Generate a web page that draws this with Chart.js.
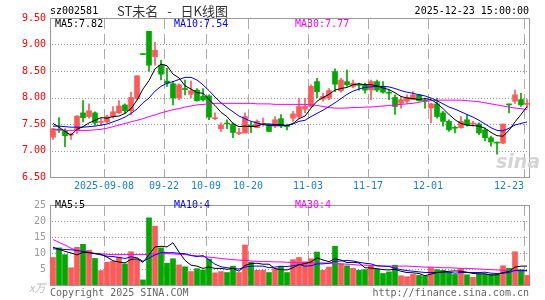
<!DOCTYPE html>
<html lang="zh">
<head>
  <meta charset="UTF-8" />
  <title>ST未名 - 日K线图</title>
  <script src="https://cdn.jsdelivr.net/npm/chart.js"></script>
  <style>
    body { margin: 0; background: #fff; font-family: "DejaVu Sans Mono", monospace; font-size: 10px; }
    canvas { position: absolute; left: 0; z-index: 1; }
    #priceChart { top: 0; }
    #volChart { top: 195px; }
    .txt { position: absolute; line-height: 12px; white-space: pre; z-index: 2; }
    .gridline { position: absolute; z-index: 0; }
  </style>
</head>
<body>
  <canvas id="priceChart" width="545" height="196"></canvas>
  <canvas id="volChart" width="545" height="105"></canvas>

  <div class="txt" style="left:50px;top:5px;color:#000;font-size:10px">sz002581</div>
  <div class="txt" style="left:117px;top:3px;color:#333;font:13px 'Noto Sans CJK SC';line-height:16px;word-spacing:6px">ST未名 - 日K线图</div>
  <div class="txt" style="right:16px;top:5px;color:#000">2025-12-23 15:00:00</div>

  <div class="txt" style="left:55px;top:18px;color:#000">MA5:7.82</div>
  <div class="txt" style="left:174px;top:18px;color:#0000ff">MA10:7.54</div>
  <div class="txt" style="left:295px;top:18px;color:#ff00ff">MA30:7.77</div>

  <div class="txt" style="left:55px;top:199px;color:#000">MA5:5</div>
  <div class="txt" style="left:174px;top:199px;color:#0000ff">MA10:4</div>
  <div class="txt" style="left:295px;top:199px;color:#ff00ff">MA30:4</div>

  <div class="txt" style="left:496px;top:150px;color:#d4d4d4;font:italic bold 19px 'DejaVu Sans';line-height:22px">sina</div>

  <div class="txt" style="left:29px;top:281px;color:#bbb;font:italic 11px 'Noto Sans CJK SC';line-height:12px">x万</div>
  <div class="txt" style="left:50px;top:287px;color:#666">Copyright 2025 SINA.COM</div>
  <div class="txt" style="right:16px;top:287px;color:#666">http://finance.sina.com.cn</div>

  <script>
    // trading days shown (80)
    const dates = [
      '2025-08-26','2025-08-27','2025-08-28','2025-08-29',
      '2025-09-01','2025-09-02','2025-09-03','2025-09-04','2025-09-05',
      '2025-09-08','2025-09-09','2025-09-10','2025-09-11','2025-09-12',
      '2025-09-15','2025-09-16','2025-09-17','2025-09-18','2025-09-19',
      '2025-09-22','2025-09-23','2025-09-24','2025-09-25','2025-09-26',
      '2025-09-29','2025-09-30',
      '2025-10-09','2025-10-10',
      '2025-10-13','2025-10-14','2025-10-15','2025-10-16','2025-10-17',
      '2025-10-20','2025-10-21','2025-10-22','2025-10-23','2025-10-24',
      '2025-10-27','2025-10-28','2025-10-29','2025-10-30','2025-10-31',
      '2025-11-03','2025-11-04','2025-11-05','2025-11-06','2025-11-07',
      '2025-11-10','2025-11-11','2025-11-12','2025-11-13','2025-11-14',
      '2025-11-17','2025-11-18','2025-11-19','2025-11-20','2025-11-21',
      '2025-11-24','2025-11-25','2025-11-26','2025-11-27','2025-11-28',
      '2025-12-01','2025-12-02','2025-12-03','2025-12-04','2025-12-05',
      '2025-12-08','2025-12-09','2025-12-10','2025-12-11','2025-12-12',
      '2025-12-15','2025-12-16','2025-12-17','2025-12-18','2025-12-19',
      '2025-12-22','2025-12-23'
    ];

    // x axis labels
    const tickDates = ['2025-09-08','2025-09-22','2025-10-09','2025-10-20','2025-11-03','2025-11-17','2025-12-01','2025-12-23'];
    const tickTexts = ['2025-09-08','09-22','10-09','10-20','11-03','11-17','12-01','12-23'];

    // dotted horizontal grid levels
    const priceGrid = [7.0, 7.5, 8.0, 8.5, 9.0];
    const volGrid = [5, 10, 15, 20];

    const opens = [
      7.25, 7.40, 7.37, 7.29, 7.39, 7.71, 7.64, 7.71, 7.53, 7.54,
      7.64, 7.71, 7.86, 7.75, 7.98, 8.82, 9.25, 8.77, 8.61, 8.31,
      8.26, 7.99, 8.17, 8.06, 8.14, 8.02, 8.03, 7.60, 7.41, 7.51,
      7.50, 7.32, 7.33, 7.47, 7.43, 7.49, 7.49, 7.46, 7.60, 7.46,
      7.61, 7.64, 7.78, 7.83, 8.30, 7.97, 7.99, 8.49, 8.13, 8.30,
      8.21, 8.25, 8.25, 8.14, 8.30, 8.21, 8.09, 8.00, 7.89, 7.93,
      7.96, 8.05, 7.94, 7.80, 7.88, 7.71, 7.55, 7.43, 7.43, 7.58,
      7.50, 7.50, 7.39, 7.24, 7.15, 7.14, 7.87, 7.93, 7.96, 7.87
    ];
    const highs = [
      7.42, 7.62, 7.41, 7.33, 7.66, 7.94, 7.88, 7.73, 7.60, 7.67,
      7.83, 7.94, 7.88, 8.10, 8.41, 8.82, 9.25, 9.04, 8.70, 8.55,
      8.30, 8.26, 8.33, 8.31, 8.17, 8.17, 8.05, 7.71, 7.52, 7.58,
      7.52, 7.42, 7.71, 7.54, 7.58, 7.61, 7.50, 7.64, 7.68, 7.50,
      7.74, 7.99, 7.99, 8.24, 8.36, 8.08, 8.17, 8.54, 8.36, 8.52,
      8.33, 8.27, 8.27, 8.33, 8.33, 8.30, 8.14, 8.05, 8.02, 8.05,
      8.11, 8.06, 7.99, 7.89, 7.99, 7.74, 7.58, 7.46, 7.64, 7.68,
      7.55, 7.52, 7.43, 7.27, 7.16, 7.50, 7.88, 8.14, 8.08, 7.96
    ];
    const lows = [
      7.21, 7.34, 7.07, 7.21, 7.32, 7.54, 7.61, 7.48, 7.47, 7.53,
      7.61, 7.70, 7.70, 7.67, 7.95, 8.81, 8.49, 8.61, 8.33, 8.21,
      7.86, 7.96, 8.05, 7.99, 7.93, 7.93, 7.58, 7.58, 7.36, 7.41,
      7.24, 7.30, 7.33, 7.33, 7.43, 7.46, 7.35, 7.43, 7.43, 7.39,
      7.55, 7.61, 7.71, 7.81, 7.99, 7.93, 7.96, 8.11, 8.10, 8.21,
      8.18, 8.14, 8.08, 7.96, 8.11, 8.08, 7.96, 7.68, 7.80, 7.89,
      7.96, 7.93, 7.80, 7.52, 7.61, 7.46, 7.36, 7.33, 7.42, 7.46,
      7.46, 7.30, 7.18, 7.08, 6.93, 7.13, 7.71, 7.89, 7.83, 7.80
    ];
    const closes = [
      7.41, 7.38, 7.28, 7.30, 7.65, 7.62, 7.75, 7.52, 7.54, 7.64,
      7.73, 7.84, 7.75, 8.00, 8.41, 8.81, 8.61, 8.89, 8.44, 8.27,
      7.99, 8.24, 8.15, 8.13, 7.94, 7.96, 7.63, 7.61, 7.48, 7.50,
      7.34, 7.33, 7.64, 7.46, 7.55, 7.50, 7.36, 7.58, 7.46, 7.45,
      7.69, 7.83, 7.83, 8.21, 8.11, 8.02, 8.13, 8.25, 8.33, 8.24,
      8.27, 8.23, 8.14, 8.30, 8.14, 8.10, 8.08, 7.83, 7.96, 8.00,
      8.05, 7.94, 7.93, 7.88, 7.64, 7.55, 7.39, 7.42, 7.55, 7.48,
      7.51, 7.33, 7.24, 7.16, 7.14, 7.50, 7.86, 8.05, 7.86, 7.88
    ];

    // price moving averages
    const ma5 = [
      7.51, 7.44, 7.36, 7.29, 7.40, 7.45, 7.52, 7.57, 7.62, 7.61,
      7.64, 7.65, 7.70, 7.79, 7.95, 8.16, 8.32, 8.54, 8.63, 8.60,
      8.44, 8.37, 8.22, 8.16, 8.09, 8.08, 7.96, 7.85, 7.72, 7.64,
      7.51, 7.45, 7.46, 7.45, 7.46, 7.50, 7.50, 7.49, 7.49, 7.47,
      7.51, 7.60, 7.65, 7.80, 7.93, 8.00, 8.06, 8.14, 8.17, 8.19,
      8.24, 8.26, 8.24, 8.24, 8.22, 8.18, 8.15, 8.09, 8.02, 7.99,
      7.98, 7.96, 7.98, 7.96, 7.89, 7.79, 7.68, 7.58, 7.51, 7.48,
      7.47, 7.46, 7.42, 7.34, 7.28, 7.27, 7.38, 7.54, 7.68, 7.83
    ];
    const ma10 = [
      7.46, 7.46, 7.45, 7.44, 7.44, 7.44, 7.45, 7.46, 7.48, 7.50,
      7.54, 7.58, 7.63, 7.70, 7.78, 7.90, 7.99, 8.12, 8.21, 8.27,
      8.30, 8.34, 8.38, 8.38, 8.33, 8.24, 8.13, 8.01, 7.90, 7.81,
      7.73, 7.65, 7.60, 7.55, 7.52, 7.49, 7.47, 7.47, 7.47, 7.47,
      7.50, 7.55, 7.57, 7.64, 7.70, 7.76, 7.83, 7.90, 7.98, 8.06,
      8.12, 8.16, 8.19, 8.20, 8.21, 8.21, 8.20, 8.17, 8.13, 8.10,
      8.08, 8.05, 8.03, 7.99, 7.94, 7.88, 7.82, 7.78, 7.73, 7.68,
      7.63, 7.57, 7.50, 7.43, 7.38, 7.37, 7.42, 7.48, 7.51, 7.54
    ];
    const ma30 = [
      7.40, 7.39, 7.38, 7.38, 7.38, 7.38, 7.38, 7.39, 7.40, 7.42,
      7.45, 7.48, 7.51, 7.54, 7.57, 7.60, 7.64, 7.67, 7.71, 7.74,
      7.77, 7.79, 7.82, 7.84, 7.86, 7.87, 7.88, 7.89, 7.89, 7.89,
      7.89, 7.89, 7.89, 7.89, 7.88, 7.88, 7.88, 7.87, 7.87, 7.87,
      7.87, 7.87, 7.87, 7.86, 7.85, 7.83, 7.81, 7.80, 7.80, 7.80,
      7.81, 7.81, 7.82, 7.82, 7.83, 7.84, 7.85, 7.86, 7.87, 7.88,
      7.89, 7.91, 7.93, 7.94, 7.95, 7.95, 7.95, 7.95, 7.95, 7.94,
      7.93, 7.92, 7.90, 7.88, 7.86, 7.84, 7.82, 7.80, 7.79, 7.77
    ];

    // volume (x万)
    const volumes = [
      8.6, 11.6, 9.5, 5.4, 11.8, 12.7, 10.9, 8.3, 4.5, 7.1,
      7.4, 8.7, 6.6, 10.4, 8.0, 1.6, 21.0, 18.4, 11.6, 6.8,
      8.2, 6.3, 5.7, 4.2, 5.1, 4.7, 8.1, 3.8, 4.2, 3.9,
      5.9, 3.9, 12.5, 7.1, 4.6, 4.6, 3.9, 5.2, 5.9, 3.9,
      7.9, 8.6, 7.3, 8.2, 10.3, 4.6, 5.6, 12.1, 6.6, 6.0,
      5.2, 4.6, 4.8, 5.9, 4.9, 3.6, 4.1, 6.2, 2.9, 2.6,
      3.3, 3.0, 2.8, 5.4, 4.8, 4.6, 3.9, 3.3, 5.1, 3.2,
      2.4, 3.4, 3.4, 3.3, 3.3, 6.0, 5.2, 10.4, 4.8, 3.0
    ];
    const volMa5 = [
      11.8, 11.2, 10.5, 10.0, 9.4, 10.2, 10.1, 9.8, 9.6, 8.7,
      7.6, 7.2, 6.9, 8.0, 8.2, 7.1, 9.5, 11.9, 12.1, 11.9,
      13.2, 10.3, 7.7, 6.2, 5.9, 5.2, 5.6, 5.2, 5.2, 4.9,
      5.2, 4.3, 6.1, 6.7, 6.8, 6.5, 6.5, 5.1, 4.8, 4.7,
      5.4, 6.3, 6.7, 7.2, 8.5, 7.8, 7.3, 8.2, 7.8, 7.0,
      7.1, 6.9, 5.4, 5.3, 5.1, 4.8, 4.7, 4.9, 4.3, 3.9,
      3.8, 3.6, 2.9, 3.4, 3.9, 4.1, 4.3, 4.4, 4.3, 4.0,
      3.6, 3.5, 3.5, 3.1, 3.2, 3.9, 4.2, 5.6, 5.9, 5.9
    ];
    const volMa10 = [
      11.3, 11.2, 11.1, 11.0, 10.8, 10.5, 10.2, 9.8, 9.4, 9.0,
      8.9, 8.6, 8.3, 8.8, 8.5, 7.4, 8.4, 9.4, 10.1, 10.1,
      10.1, 9.9, 9.8, 9.2, 8.9, 9.2, 7.9, 6.5, 5.7, 5.4,
      5.2, 5.0, 5.6, 5.9, 5.9, 5.9, 5.4, 5.6, 5.8, 5.8,
      6.0, 6.4, 5.9, 6.0, 6.6, 6.6, 6.8, 7.4, 7.5, 7.7,
      7.5, 7.1, 6.8, 6.6, 6.0, 5.9, 5.8, 5.2, 4.8, 4.5,
      4.3, 4.1, 3.9, 3.9, 3.9, 4.0, 4.0, 3.7, 3.9, 3.9,
      3.9, 3.9, 4.0, 3.7, 3.6, 3.7, 3.9, 4.6, 4.5, 4.5
    ];
    const volMa30 = [
      14.2, 13.3, 12.5, 11.5, 10.8, 10.4, 10.1, 9.9, 9.7, 9.6,
      9.5, 9.5, 9.5, 9.5, 9.5, 9.5, 9.6, 9.7, 9.8, 9.8,
      9.7, 9.6, 9.5, 9.3, 9.1, 8.9, 8.7, 8.5, 8.3, 8.1,
      7.9, 7.8, 7.7, 7.5, 7.4, 7.3, 7.3, 7.2, 7.2, 7.1,
      7.0, 6.9, 6.9, 6.9, 6.9, 6.9, 6.8, 6.7, 6.6, 6.5,
      6.4, 6.2, 6.2, 6.1, 6.0, 5.9, 5.9, 5.9, 5.9, 5.9,
      5.8, 5.7, 5.6, 5.6, 5.5, 5.4, 5.4, 5.3, 5.2, 5.2,
      5.1, 5.0, 4.9, 4.8, 4.7, 4.6, 4.5, 4.4, 4.4, 4.4
    ];

    const UP = '#ff5a5a';
    const DOWN = '#00a800';
    const GRID = '#999999';
    const MONO = 'DejaVu Sans Mono';
    const barColors = closes.map((c, i) => c >= opens[i] ? UP : DOWN);

    // frame around the plot area
    const framePlugin = {
      id: 'frame',
      beforeDatasetsDraw(chart) {
        const { ctx, chartArea: a } = chart;
        ctx.save();
        ctx.strokeStyle = GRID;
        ctx.lineWidth = 1;
        ctx.strokeRect(a.left + 0.5, a.top + 0.5, a.right - a.left - 1, a.bottom - a.top);
        ctx.restore();
      }
    };

    // dotted value lines and dashed date lines, laid under the canvas at the chart's scale positions
    function addGrid(chart, canvasTop, levels) {
      const a = chart.chartArea;
      const x = chart.scales.x;
      const y = chart.scales.y;
      const half = (x.getPixelForValue(1) - x.getPixelForValue(0)) / 2;
      levels.forEach(v => {
        const el = document.createElement('div');
        el.className = 'gridline';
        el.style.left = (a.left + 2) + 'px';
        el.style.top = (canvasTop + Math.round(y.getPixelForValue(v))) + 'px';
        el.style.width = (a.right - a.left - 4) + 'px';
        el.style.height = '1px';
        el.style.background = 'repeating-linear-gradient(to right, #999 0px, #999 1px, transparent 1px, transparent 3px)';
        document.body.appendChild(el);
      });
      tickDates.forEach(d => {
        const el = document.createElement('div');
        el.className = 'gridline';
        el.style.left = Math.round(x.getPixelForValue(dates.indexOf(d)) - half) + 'px';
        el.style.top = (canvasTop + a.top + 1) + 'px';
        el.style.width = '1px';
        el.style.height = (a.bottom - a.top - 1) + 'px';
        el.style.background = 'repeating-linear-gradient(to bottom, #aaa 0px, #aaa 10px, transparent 10px, transparent 15px)';
        document.body.appendChild(el);
      });
    }

    function maLine(data, color) {
      return { type: 'line', data, borderColor: color, borderWidth: 1, pointRadius: 0, tension: 0, fill: false, order: 0 };
    }

    function xScale(showLabels, height) {
      return {
        type: 'category',
        offset: true,
        grid: { display: false, offset: true, drawTicks: false },
        border: { display: false },
        ticks: {
          display: showLabels,
          autoSkip: false,
          maxRotation: 0,
          align: 'inner',
          labelOffset: -3,
          padding: 3,
          color: '#1a7fcf',
          font: { family: MONO, size: 10 },
          callback: (v, i) => {
            const k = tickDates.indexOf(dates[i]);
            return k >= 0 ? tickTexts[k] : '';
          }
        },
        afterFit: s => { s.height = height; s.paddingLeft = 0; s.paddingRight = 0; }
      };
    }

    const priceChart = new Chart(document.getElementById('priceChart'), {
      type: 'bar',
      data: {
        labels: dates,
        datasets: [
          maLine(ma5, '#000000'),
          maLine(ma10, '#0000ff'),
          maLine(ma30, '#ff00ff'),
          {
            type: 'bar',
            data: opens.map((o, i) => [o, closes[i]]),
            backgroundColor: barColors,
            barThickness: 5,
            minBarLength: 1,
            grouped: false,
            order: 1
          },
          {
            type: 'bar',
            data: lows.map((l, i) => [l, highs[i]]),
            backgroundColor: barColors,
            barThickness: 1,
            grouped: false,
            order: 2
          }
        ]
      },
      options: {
        responsive: false,
        animation: false,
        devicePixelRatio: 1,
        layout: { padding: { top: 18, right: 15, left: 0, bottom: 0 } },
        plugins: { legend: { display: false }, tooltip: { enabled: false } },
        scales: {
          x: xScale(true, 19),
          y: {
            min: 6.5,
            max: 9.5,
            grid: { display: false, drawTicks: false },
            border: { display: false },
            ticks: {
              stepSize: 0.5,
              autoSkip: false,
              padding: 4,
              color: '#ff0000',
              font: { family: MONO, size: 10 },
              callback: v => Number(v).toFixed(2)
            },
            afterFit: s => { s.width = 50; }
          }
        }
      },
      plugins: [framePlugin]
    });

    const volChart = new Chart(document.getElementById('volChart'), {
      type: 'bar',
      data: {
        labels: dates,
        datasets: [
          maLine(volMa5, '#000000'),
          maLine(volMa10, '#0000ff'),
          maLine(volMa30, '#ff00ff'),
          {
            type: 'bar',
            data: volumes,
            backgroundColor: barColors,
            barThickness: 5,
            grouped: false,
            order: 1
          }
        ]
      },
      options: {
        responsive: false,
        animation: false,
        devicePixelRatio: 1,
        layout: { padding: { top: 6, right: 15, left: 0, bottom: 0 } },
        plugins: { legend: { display: false }, tooltip: { enabled: false } },
        scales: {
          x: xScale(false, 15),
          y: {
            min: 0,
            max: 25,
            grid: { display: false, drawTicks: false },
            border: { display: false },
            ticks: {
              stepSize: 5,
              autoSkip: false,
              padding: 4,
              color: '#999999',
              font: { family: MONO, size: 10 },
              callback: v => v === 0 ? '' : v
            },
            afterFit: s => { s.width = 50; }
          }
        }
      },
      plugins: [framePlugin]
    });

    addGrid(priceChart, 0, priceGrid);
    addGrid(volChart, 195, volGrid);
  </script>
</body>
</html>
